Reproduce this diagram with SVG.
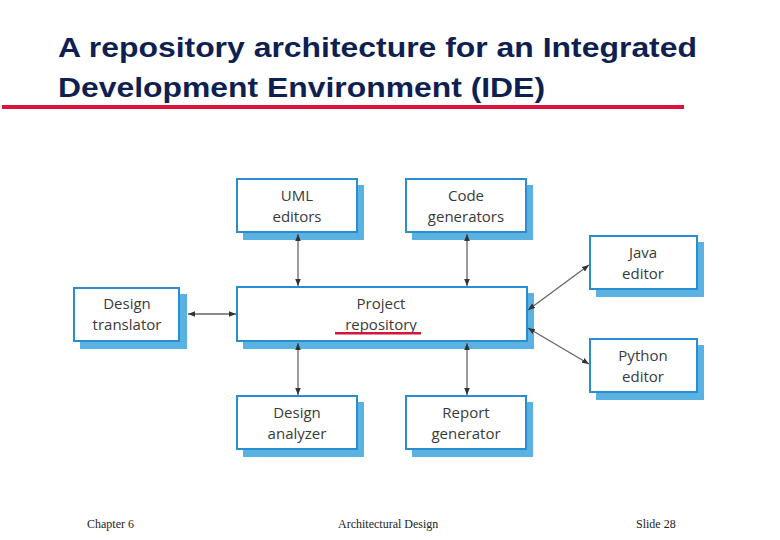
<svg xmlns="http://www.w3.org/2000/svg" width="780" height="540" viewBox="0 0 780 540">
<defs>
<style>
.title{font-family:"Liberation Sans",Arial,sans-serif;font-size:27px;font-weight:bold;fill:#0f1f52;}
.shadow{fill:#5ab2e3;}
.box{fill:#fff;stroke:#2a8dd0;stroke-width:2;}
.lbl{font-family:"Open Sans","Liberation Sans",sans-serif;font-size:15px;fill:#3a3a3a;text-anchor:middle;}
.foot{font-family:"Liberation Serif","Times New Roman",serif;font-size:12px;fill:#222;}
.conn{stroke:#666;stroke-width:1.3;fill:none;}
</style>
<marker id="ah" viewBox="0 0 10 10" refX="10" refY="5" markerWidth="7" markerHeight="7" orient="auto-start-reverse" markerUnits="userSpaceOnUse">
<path d="M0,1 L10,5 L0,9 z" fill="#333"/>
</marker>
</defs>
<rect width="780" height="540" fill="#fff"/>
<text class="title" x="58" y="57" textLength="639" lengthAdjust="spacingAndGlyphs">A repository architecture for an Integrated</text>
<text class="title" x="58" y="97" textLength="487" lengthAdjust="spacingAndGlyphs">Development Environment (IDE)</text>
<rect x="2" y="105" width="682" height="4" fill="#d9133a"/>

<g id="uml-editors">
<rect class="shadow" x="243" y="185" width="121" height="55"/>
<rect class="box" x="237" y="179" width="120" height="53"/>
<text class="lbl" x="297" y="201">UML</text>
<text class="lbl" x="297" y="222">editors</text>
</g>
<g id="code-generators">
<rect class="shadow" x="412" y="185" width="121" height="55"/>
<rect class="box" x="406" y="179" width="120" height="53"/>
<text class="lbl" x="466" y="201">Code</text>
<text class="lbl" x="466" y="222">generators</text>
</g>
<g id="java-editor">
<rect class="shadow" x="596" y="242" width="108" height="55"/>
<rect class="box" x="590" y="236" width="107" height="53"/>
<text class="lbl" x="643" y="258">Java</text>
<text class="lbl" x="643" y="279">editor</text>
</g>
<g id="design-translator">
<rect class="shadow" x="80" y="294" width="107" height="55"/>
<rect class="box" x="74" y="288" width="105" height="53"/>
<text class="lbl" x="127" y="309">Design</text>
<text class="lbl" x="127" y="330">translator</text>
</g>
<g id="project-repository">
<rect class="shadow" x="243" y="293" width="291" height="56"/>
<rect class="box" x="237" y="287" width="290" height="54"/>
<text class="lbl" x="381" y="309">Project</text>
<text class="lbl" x="381" y="330">repository</text>
<rect x="335" y="332" width="86" height="2.5" fill="#d9133a"/>
</g>
<g id="python-editor">
<rect class="shadow" x="596" y="345" width="108" height="55"/>
<rect class="box" x="590" y="339" width="107" height="53"/>
<text class="lbl" x="643" y="361">Python</text>
<text class="lbl" x="643" y="382">editor</text>
</g>
<g id="design-analyzer">
<rect class="shadow" x="243" y="402" width="121" height="55"/>
<rect class="box" x="237" y="396" width="120" height="53"/>
<text class="lbl" x="297" y="418">Design</text>
<text class="lbl" x="297" y="439">analyzer</text>
</g>
<g id="report-generator">
<rect class="shadow" x="412" y="402" width="121" height="55"/>
<rect class="box" x="406" y="396" width="120" height="53"/>
<text class="lbl" x="466" y="418">Report</text>
<text class="lbl" x="466" y="439">generator</text>
</g>

<g id="connectors">
<line class="conn" x1="298" y1="234" x2="298" y2="286" marker-start="url(#ah)" marker-end="url(#ah)"/>
<line class="conn" x1="467" y1="234" x2="467" y2="286" marker-start="url(#ah)" marker-end="url(#ah)"/>
<line class="conn" x1="298" y1="343" x2="298" y2="395" marker-start="url(#ah)" marker-end="url(#ah)"/>
<line class="conn" x1="467" y1="343" x2="467" y2="395" marker-start="url(#ah)" marker-end="url(#ah)"/>
<line class="conn" x1="188" y1="314" x2="236" y2="314" marker-start="url(#ah)" marker-end="url(#ah)"/>
<line class="conn" x1="528" y1="310" x2="589" y2="265" marker-start="url(#ah)" marker-end="url(#ah)"/>
<line class="conn" x1="528" y1="328" x2="589" y2="364" marker-start="url(#ah)" marker-end="url(#ah)"/>
</g>

<text class="foot" x="87" y="528">Chapter 6</text>
<text class="foot" x="338" y="528">Architectural Design</text>
<text class="foot" x="636" y="528">Slide  28</text>
</svg>
